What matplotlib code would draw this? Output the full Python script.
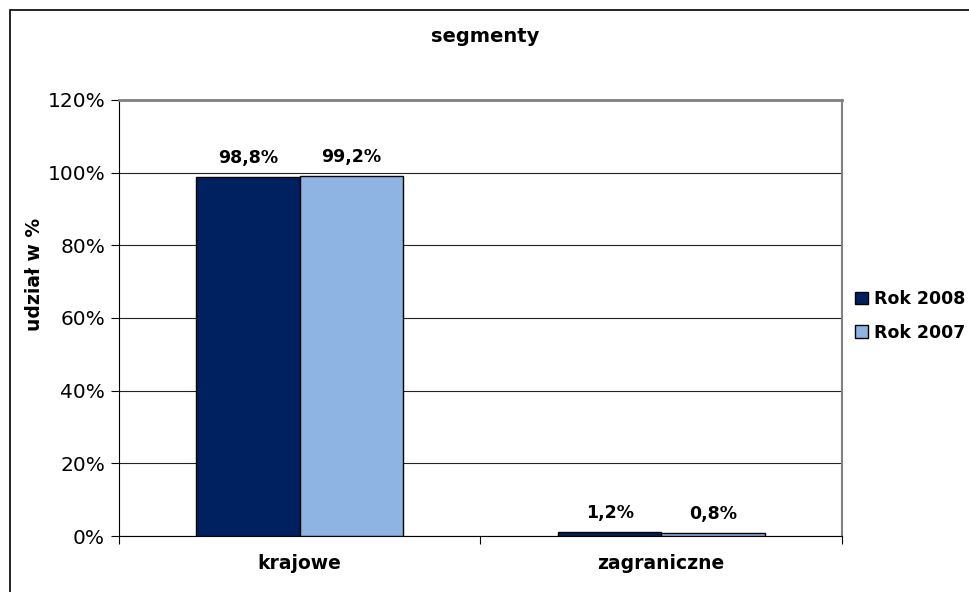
import numpy as np
import matplotlib.pyplot as plt
from matplotlib.patches import Rectangle, Patch

# Data
categories = ['krajowe', 'zagraniczne']
series_names = ['Rok 2008', 'Rok 2007']
rok_2008 = [98.8, 1.2]
rok_2007 = [99.2, 0.8]
colors = ['#00215F', '#8DB4E2']

plt.rcParams['font.family'] = ['DejaVu Sans']

fig = plt.figure(figsize=(9.7, 5.92), dpi=100)
ax = fig.add_axes([119/970, 1 - 536/592, 723/970, 436/592])

x = np.arange(len(categories))
width = 1 / 3.5  # excel-style gap width of 150%
for i, (vals, name) in enumerate(zip([rok_2008, rok_2007], series_names)):
    pos = x + (i - 0.5) * width
    ax.bar(pos, vals, width, color=colors[i], edgecolor='black', linewidth=1, zorder=3)
    for px, v in zip(pos, vals):
        ax.annotate(f'{v:.1f}%'.replace('.', ','), (px, v), xytext=(0, 7),
                    textcoords='offset points', ha='center', va='bottom',
                    fontsize=12.5, fontweight='bold')

ax.set_xlim(-0.5, 1.5)
ax.set_ylim(0, 120)
ax.set_yticks(range(0, 121, 20))
ax.set_yticklabels([f'{t}%' for t in range(0, 121, 20)], fontsize=14.5)
ax.yaxis.grid(True, color='#222222', linewidth=0.8, zorder=0)

# category ticks between groups, labels centred under groups
ax.set_xticks([-0.5, 0.5, 1.5])
ax.set_xticklabels([])
ax.set_xticks(x, minor=True)
ax.set_xticklabels(categories, minor=True, fontsize=13.5, fontweight='bold')
ax.tick_params(axis='x', which='minor', length=0, pad=13)
ax.tick_params(axis='x', which='major', length=6, direction='out')
ax.tick_params(axis='y', length=6, direction='out', pad=4)

ax.spines['top'].set_color('#808080')
ax.spines['top'].set_linewidth(2)
ax.spines['right'].set_color('#808080')
ax.spines['right'].set_linewidth(1.5)

ax.set_ylabel('udział w %', fontsize=13.5, fontweight='bold')
ax.yaxis.set_label_coords(-0.104, 0.6)

fig.text(0.5, 1 - 36/592, 'segmenty', ha='center', va='center',
         fontsize=14, fontweight='bold')

handles = [Patch(facecolor=c, edgecolor='black', linewidth=1) for c in colors]
fig.legend(handles, series_names, loc='center left',
           bbox_to_anchor=(848/970, 1 - 316/592), frameon=False,
           prop={'size': 12.5, 'weight': 'bold'}, handlelength=0.75,
           handleheight=0.75, handletextpad=0.35, labelspacing=0.9,
           borderaxespad=0)

# outer chart frame
fig.patches.append(Rectangle((10/970, -0.1), 1.2, 1.1 - 10/592,
                             transform=fig.transFigure, fill=False,
                             edgecolor='black', linewidth=1.2, clip_on=False))

fig.savefig('out.png', dpi=100)
